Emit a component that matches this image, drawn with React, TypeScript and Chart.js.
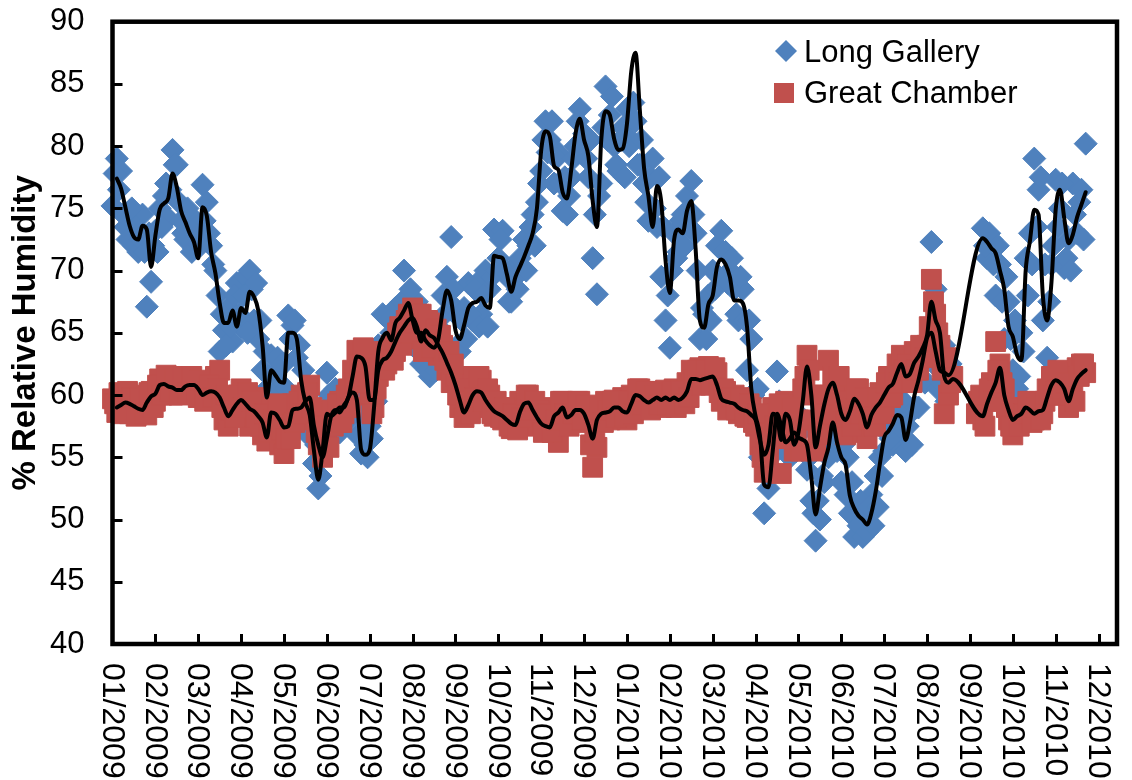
import React, { useEffect, useRef } from 'react';
import { Chart, registerables } from 'chart.js';

Chart.register(...registerables);

const FONT = '"Liberation Sans", Arial, Helvetica, sans-serif';

// x axis: months since 01/2009 (tick i = label i)
const monthLabels = [
  '01/2009', '02/2009', '03/2009', '04/2009', '05/2009', '06/2009',
  '07/2009', '08/2009', '09/2009', '10/2009', '11/2009', '12/2009',
  '01/2010', '02/2010', '03/2010', '04/2010', '05/2010', '06/2010',
  '07/2010', '08/2010', '09/2010', '10/2010', '11/2010', '12/2010',
];
const yTickValues = [40, 45, 50, 55, 60, 65, 70, 75, 80, 85, 90];
const seriesNames = ['Long Gallery', 'Great Chamber'];

// readings every 0.1 month; second set offset by half a step
const xStep = 0.1;
const xStartA = 0;
const xStartB = 0.05;

const galleryValuesA: (number | null)[] = [
  75.2, 79.0, 78.0, 73.5, 74.8, 72.0, 71.5, 74.5, 67.1, 69.1,
  73.2, 75.0, 76.0, 74.2, 79.7, 78.5, 74.0, 72.5, 74.5, 71.8,
  73.0, 76.9, 75.5, 72.0, 70.0, 63.5, 65.2, 67.0, 64.3, 69.0,
  65.5, 69.5, 70.0, 66.0, 64.5, 62.0, 60.5, 63.2, 61.8, 60.8,
  62.5, 66.4, 65.6, 63.0, 60.0, 57.0, 59.5, 54.5, 52.5, 56.5,
  61.8, 58.0, 60.5, 57.0, 59.0, 58.0, 61.0, 56.8, 55.3, 56.0,
  57.5, 61.0, 64.0, 66.5, 63.5, 65.0, 67.0, 64.5, 70.0, 66.5,
  64.0, 67.5, 62.5, 64.5, 61.5, 63.0, 65.5, 68.0, 69.5, 72.7,
  66.5, 63.5, 67.0, 69.0, 66.0, 69.0, 66.5, 70.0, 68.5, 73.3,
  71.0, 73.2, 69.5, 67.5, 70.5, 71.0, 72.5, 72.0, 74.5, 75.5,
  78.0, 82.0, 80.5, 77.0, 79.5, 74.8, 74.5, 77.5, 80.0, 83.0,
  81.0, 77.5, 71.0, 68.1, 77.0, 84.8, 82.5, 80.0, 78.0, 81.5,
  83.0, 80.5, 82.0, 78.5, 77.0, 74.0, 79.0, 73.5, 69.5, 66.0,
  63.8, 73.0, 71.5, 74.5, 76.0, 77.2, 73.0, 64.5, 66.5, 68.0,
  70.0, 72.0, 73.2, 71.5, 70.0, 68.5, 66.0, 68.5, 62.0, 64.5,
  58.0, 55.0, 50.5, 52.5, 54.0, 61.9, 56.0, 58.0, 55.0, 57.5,
  58.5, 55.5, 54.0, 51.5, 48.3, 50.0, 53.0, 55.0, 58.5, 55.5,
  53.0, 52.0, 50.5, 48.6, 49.5, 48.6, 49.0, 52.0, 53.5, 55.0,
  55.5, 58.0, 56.0, 59.5, 57.0, 55.5, 58.5, 61.0, 59.0, 63.0,
  64.5, 72.3, 68.5, 62.0, 64.0, 61.0, null, null, null, null,
  null, null, null, 73.4, 71.0, 72.5, 68.0, 70.5, 64.5, 67.5,
  62.0, 60.5, 65.0, 71.0, 73.0, 79.0, 76.5, 66.0, 63.0, 70.5,
  77.3, 75.0, 70.2, 72.5, 77.0, 73.0, 76.5, 80.2,
];

const galleryValuesB: (number | null)[] = [
  77.8, 76.5, 74.5, 72.5, 75.0, 73.5, 72.5, 71.5, 73.0, 72.0,
  71.5, 73.5, 77.0, 76.5, 78.5, 75.5, 73.0, 75.0, 71.5, 73.5,
  72.0, 74.0, 73.0, 70.5, 68.0, 66.5, 64.0, 65.5, 68.0, 66.5,
  68.0, 65.0, 68.5, 69.0, 66.0, 63.5, 61.5, 60.0, 63.0, 62.5,
  60.5, 64.5, 66.0, 64.0, 62.0, 58.0, 57.5, 56.0, 53.5, 58.0,
  60.0, 59.5, 57.5, 60.0, 58.0, 60.0, 59.0, 58.5, 56.5, 55.0,
  56.5, 59.5, 62.5, 63.5, 66.0, 63.0, 64.5, 67.5, 65.5, 68.5,
  65.5, 63.5, 66.0, 62.0, 65.0, 62.0, 63.5, 66.5, 67.5, 68.5,
  64.0, 66.0, 64.5, 66.5, 68.5, 65.5, 68.0, 65.5, 69.5, 70.0,
  72.5, 70.0, 67.5, 69.5, 68.5, 70.0, 70.0, 73.5, 72.0, 77.0,
  80.5, 79.5, 82.0, 79.0, 77.0, 77.5, 76.0, 79.0, 82.0, 80.5,
  79.0, 80.5, 74.5, 76.0, 81.5, 80.5, 84.0, 78.5, 80.5, 77.5,
  80.0, 83.5, 78.5, 80.5, 75.5, 77.5, 75.0, 77.5, 73.5, 68.0,
  70.0, 71.0, 74.0, 72.0, 73.5, 74.5, 70.0, 67.0, 64.5, 66.0,
  68.5, 69.5, 71.5, 69.0, 71.0, 66.5, 69.5, 66.0, 66.0, 60.0,
  60.5, 57.5, 53.5, 55.0, 57.0, 59.5, 58.5, 55.5, 58.0, 55.5,
  57.0, 57.5, 55.0, 50.5, 51.5, 53.5, 56.0, 57.0, 56.5, 58.0,
  56.0, 55.0, 53.0, 51.0, 51.5, 50.5, 51.0, 49.5, 51.0, 53.5,
  57.0, 56.5, 58.5, 57.5, 59.5, 57.5, 56.0, 59.0, 61.5, 61.0,
  63.0, 66.0, 60.5, 61.0, 59.5, 62.5, null, null, null, null,
  null, null, null, 72.0, 73.0, 70.5, 72.0, 67.5, 69.5, 64.5,
  66.0, 61.5, 63.5, 68.0, 70.5, 73.5, 77.5, 70.5, 67.5, 72.0,
  73.5, 77.0, 71.0, 70.0, 74.5, 75.5, 72.5, null,
];

const chamberValuesA: (number | null)[] = [
  59.7, 58.6, 60.0, 59.2, 58.5, 60.0, 58.7, 59.5, 58.4, 60.3,
  59.5, 61.3, 60.2, 61.5, 60.0, 61.0, 60.5, 61.2, 60.3, 61.0,
  59.8, 60.8, 59.6, 60.5, 61.5, 62.0, 58.0, 57.5, 59.5, 58.6,
  60.5, 59.0, 57.5, 59.8, 58.5, 56.8, 56.3, 59.0, 57.8, 56.0,
  55.3, 58.0, 59.3, 58.0, 60.0, 59.0, 60.8, 58.5, 56.0, 55.0,
  57.0, 58.8, 57.8, 59.5, 58.5, 60.5, 62.0, 63.6, 62.5, 63.0,
  60.0, 59.0, 61.5, 63.5, 62.5, 64.0, 63.5, 65.5, 64.5, 66.5,
  67.0, 65.0, 66.5, 64.2, 65.8, 64.5, 63.2, 64.0, 62.0, 61.0,
  61.5, 59.0, 58.2, 60.0, 61.5, 60.5, 61.2, 59.0, 60.0, 58.3,
  59.0, 58.0, 58.7, 57.3, 58.0, 59.5, 58.8, 60.0, 58.2, 57.5,
  58.5, 57.3, 58.0, 59.0, 56.2, 59.5, 58.3, 59.2, 58.0, 59.5,
  58.3, 57.8, 54.2, 55.8, 58.8, 59.5, 58.0, 59.6, 58.5, 59.8,
  58.0, 60.0, 59.3, 60.5, 59.0, 60.2, 59.3, 60.3, 59.0, 60.4,
  59.3, 60.5, 59.5, 60.2, 61.0, 62.0, 60.8, 62.2, 61.0, 62.3,
  61.2, 61.8, 59.5, 60.3, 59.0, 60.0, 58.5, 59.5, 58.2, 59.0,
  57.5, 56.0, 53.8, 55.0, 59.0, 57.5, 53.7, 59.5, 57.0, 55.5,
  58.0, 60.5, 63.2, 60.0, 55.5, 57.0, 60.0, 62.8, 61.5, 59.5,
  58.0, 56.8, 60.0, 58.5, 60.5, 57.0, 56.5, 59.0, 57.8, 60.2,
  59.0, 61.5, 60.0, 62.5, 63.2, 61.0, 62.5, 63.5, 62.0, 63.5,
  64.0, 69.3, 66.5, 64.0, 58.5, 60.0, 61.5, null, null, null,
  null, null, 59.5, 58.0, 59.5, 61.0, 64.3, 62.5, 60.5, 58.0,
  56.8, 58.0, 59.0, 58.2, 59.5, 58.0, 59.2, 58.5, 60.5, 61.5,
  60.3, 61.8, 60.0, 59.0, 61.0, 62.2, 62.5, 61.8,
];

const chamberValuesB: (number | null)[] = [
  59.3, 60.2, 58.5, 60.3, 59.8, 58.3, 59.8, 58.5, 60.2, 59.0,
  60.8, 60.0, 61.6, 60.3, 61.3, 60.0, 61.5, 60.2, 61.5, 60.2,
  61.2, 59.5, 60.8, 59.8, 60.5, 59.0, 60.0, 58.8, 58.2, 60.0,
  59.0, 60.2, 59.5, 58.2, 57.5, 58.5, 57.0, 58.0, 59.3, 57.2,
  56.5, 56.5, 57.8, 59.5, 58.5, 60.2, 59.0, 57.0, 57.5, 56.0,
  55.8, 57.5, 59.3, 57.8, 60.0, 59.0, 61.0, 62.5, 63.8, 61.5,
  58.5, 60.5, 62.5, 62.0, 63.5, 62.8, 65.0, 64.0, 66.0, 65.0,
  65.8, 66.5, 63.5, 66.0, 63.8, 65.3, 64.8, 62.8, 63.5, 62.5,
  60.0, 60.5, 59.5, 58.5, 59.8, 61.5, 59.5, 60.5, 58.5, 59.5,
  58.2, 59.0, 57.5, 58.5, 57.2, 58.2, 60.0, 58.8, 59.5, 58.8,
  57.0, 58.5, 57.0, 58.0, 59.5, 58.5, 57.5, 58.5, 59.5, 58.0,
  59.2, 56.0, 57.0, 59.0, 57.8, 58.8, 59.5, 58.2, 59.5, 58.3,
  59.5, 58.5, 60.5, 59.2, 60.3, 58.8, 60.0, 59.2, 60.2, 59.2,
  60.3, 59.0, 60.3, 59.3, 59.8, 61.2, 62.0, 60.8, 62.0, 60.8,
  62.2, 60.2, 60.5, 58.8, 59.8, 58.8, 59.8, 58.3, 59.3, 57.8,
  58.5, 55.0, 56.5, 57.0, 57.5, 59.3, 56.5, 57.5, 59.0, 56.8,
  55.5, 61.5, 62.0, 58.0, 56.8, 59.0, 58.5, 60.0, 60.2, 61.5,
  59.5, 58.2, 57.5, 60.5, 58.5, 59.8, 58.0, 57.5, 59.8, 58.5,
  61.0, 59.8, 61.5, 61.0, 62.0, 62.5, 61.0, 62.0, 64.0, 63.0,
  65.5, 67.5, 65.0, 62.0, 63.0, 61.0, null, null, null, null,
  null, 58.5, 60.0, 57.5, 60.5, 59.5, 62.0, 61.0, 59.0, 57.5,
  59.0, 57.5, 58.5, 59.5, 57.8, 59.0, 58.0, 59.5, 60.0, 60.0,
  62.0, 60.5, 61.0, 60.0, 59.5, 61.5, 62.5, null,
];

// moving-average trend lines (xStartA grid)
const galleryTrend: (number | null)[] = [
  null, 77.4, 76.6, 75.1, 73.6, 72.7, 72.5, 73.6, 73.3, 70.3,
  72.8, 74.9, 75.4, 75.8, 77.8, 76.7, 74.8, 73.9, 73.0, 72.3,
  71.0, 75.1, 74.4, 71.5, 69.8, 67.4, 65.8, 65.8, 66.8, 65.5,
  67.0, 66.6, 68.3, 67.9, 66.8, 64.0, 59.8, 62.0, 61.6, 61.1,
  61.0, 65.0, 65.0, 64.5, 61.2, 59.4, 58.4, 55.5, 53.2, 55.5,
  58.5, 58.3, 58.6, 59.0, 59.0, 59.8, 60.2, 59.6, 55.6, 55.2,
  55.6, 59.0, 63.5, 64.6, 65.0, 64.4, 65.8, 66.2, 66.8, 67.4,
  66.0, 65.0, 65.0, 64.4, 64.0, 63.8, 64.5, 66.8, 68.4, 67.6,
  65.2, 64.5, 65.6, 67.0, 67.4, 67.5, 67.8, 67.2, 67.0, 71.2,
  71.1, 71.0, 69.7, 68.3, 69.5, 70.3, 71.1, 72.0, 73.0, 75.0,
  79.7, 81.2, 80.8, 78.4, 78.1, 76.3, 75.8, 78.1, 81.0, 82.2,
  80.5, 79.2, 75.6, 73.5, 80.5, 82.8, 82.5, 80.6, 79.7, 79.8,
  81.8, 86.0, 87.5, 82.9, 78.2, 76.0, 73.5, 76.8, 75.5, 70.8,
  68.2, 72.5, 73.3, 73.0, 74.8, 75.6, 71.8, 66.0, 65.4, 67.3,
  68.0, 70.3, 70.9, 70.5, 69.5, 67.6, 67.6, 67.4, 65.5, 60.5,
  58.3, 56.8, 52.8, 52.6, 55.5, 58.5, 57.5, 56.2, 56.5, 57.0,
  56.6, 56.4, 56.0, 53.4, 50.4, 52.5, 54.5, 55.8, 57.8, 56.2,
  55.0, 54.4, 51.9, 50.9, 50.3, 50.0, 49.6, 50.5, 52.2, 54.5,
  56.6, 57.1, 57.7, 58.4, 58.2, 56.4, 57.8, 59.9, 61.2, 62.8,
  64.6, 65.0, 63.5, 62.0, 61.8, 61.6, null, null, null, null,
  null, null, null, 72.6, 72.3, 71.8, 71.4, 70.0, 68.5, 65.5,
  64.7, 63.2, 62.8, 70.0, 72.4, 74.9, 74.5, 68.0, 66.0, 69.0,
  74.9, 76.5, 74.2, 72.2, 72.9, 74.3, 75.3, 76.3,
];

const chamberTrend: (number | null)[] = [
  null, 59.0, 59.2, 59.4, 59.3, 59.1, 58.9, 58.8, 59.4, 59.9,
  60.1, 60.8, 60.9, 60.7, 60.6, 60.4, 60.4, 60.7, 60.8, 60.8,
  60.5, 60.0, 60.2, 60.3, 60.2, 59.8, 59.0, 58.3, 58.8, 59.3,
  59.6, 59.3, 58.9, 58.7, 58.3, 57.8, 56.6, 58.6, 58.5, 58.0,
  57.4, 57.5, 58.8, 58.9, 59.0, 59.5, 59.8, 57.5, 56.0, 55.0,
  56.5, 58.3, 58.8, 58.6, 59.2, 59.8, 61.5, 63.1, 63.0, 62.3,
  59.6, 59.6, 62.0, 62.8, 63.0, 63.5, 64.3, 65.0, 65.5, 66.0,
  66.2, 65.5, 64.3, 65.2, 64.8, 64.6, 64.0, 63.4, 62.6, 61.8,
  60.8, 59.6, 58.6, 59.2, 60.0, 60.3, 60.2, 59.6, 59.1, 58.7,
  58.5, 58.3, 58.0, 57.7, 57.6, 58.6, 59.3, 59.4, 58.8, 58.2,
  57.7, 57.5, 57.4, 58.3, 58.6, 59.0, 58.2, 58.4, 58.8, 58.8,
  58.5, 57.6, 56.5, 58.0, 58.5, 58.6, 58.7, 59.0, 59.0, 58.7,
  58.6, 59.3, 60.0, 59.9, 59.6, 59.4, 59.6, 59.8, 59.6, 59.8,
  59.6, 59.8, 59.6, 59.8, 60.3, 61.3, 61.3, 61.2, 61.3, 61.4,
  61.5, 60.8, 59.7, 59.5, 59.4, 59.3, 59.0, 58.8, 58.7, 58.4,
  58.0, 56.4, 55.2, 56.0, 58.5, 58.2, 56.4, 58.5, 58.0, 56.0,
  57.0, 59.5, 62.3, 60.0, 55.8, 57.5, 59.2, 60.5, 61.0, 60.0,
  58.5, 58.0, 58.7, 59.7, 59.3, 58.5, 57.4, 58.4, 59.0, 59.4,
  60.0, 60.6, 60.9, 61.8, 62.5, 61.5, 61.7, 62.6, 63.1, 63.8,
  64.8, 67.5, 66.0, 65.0, 61.5, 61.0, 61.3, null, null, null,
  null, null, null, 58.3, 59.3, 60.2, 61.0, 62.2, 60.0, 58.8,
  58.0, 58.3, 58.5, 59.0, 58.8, 58.5, 58.7, 58.8, 59.8, 60.8,
  61.2, 61.0, 60.5, 59.5, 60.5, 61.3, 61.7, 62.0,
];

const BLUE = '#4F81BD';
const RED = '#C0504D';

const toPoints = (vals: (number | null)[], start: number) =>
  vals.map((v, i) => ({ x: Math.round((start + i * xStep) * 100) / 100, y: v }));
const toLinePoints = (vals: (number | null)[]) =>
  toPoints(vals, xStartA).filter((p) => p.y !== null);

const framePlugin = {
  id: 'excelFrame',
  afterDatasetsDraw(chart: any) {
    const { ctx, chartArea: a, scales } = chart;
    const xs = scales.x;
    const ys = scales.y;
    ctx.save();
    ctx.strokeStyle = '#000';
    ctx.lineCap = 'butt';
    ctx.lineWidth = 3;
    ctx.beginPath();
    yTickValues.forEach((v) => {
      if (v === 40 || v === 90) return;
      const py = Math.round(ys.getPixelForValue(v)) + 0.5;
      ctx.moveTo(a.left, py);
      ctx.lineTo(a.left + 10, py);
    });
    monthLabels.forEach((_, i) => {
      if (i === 0) return;
      const px = Math.round(xs.getPixelForValue(i)) + 0.5;
      ctx.moveTo(px, a.bottom);
      ctx.lineTo(px, a.bottom - 10);
    });
    ctx.stroke();
    ctx.lineWidth = 4.5;
    ctx.lineJoin = 'miter';
    ctx.strokeRect(a.left, a.top, a.right - a.left, a.bottom - a.top);

    // rotated month labels (reading top to bottom)
    ctx.fillStyle = '#000';
    ctx.font = `32px ${FONT}`;
    ctx.textAlign = 'left';
    ctx.textBaseline = 'middle';
    monthLabels.forEach((lab, i) => {
      const px = xs.getPixelForValue(i);
      ctx.save();
      ctx.translate(px - 1, a.bottom + 19);
      ctx.rotate(Math.PI / 2);
      ctx.fillText(lab, 0, 0);
      ctx.restore();
    });

    // legend inside plot
    ctx.font = `31px ${FONT}`;
    ctx.fillStyle = BLUE;
    ctx.beginPath();
    const dx = 786, dy = 51, dr = 11;
    ctx.moveTo(dx, dy - dr);
    ctx.lineTo(dx + dr, dy);
    ctx.lineTo(dx, dy + dr);
    ctx.lineTo(dx - dr, dy);
    ctx.closePath();
    ctx.fill();
    ctx.fillStyle = RED;
    ctx.fillRect(774, 83, 20, 20);
    ctx.fillStyle = '#000';
    ctx.fillText(seriesNames[0], 804, 53);
    ctx.fillText(seriesNames[1], 804, 94);
    ctx.restore();
  },
};

export default function App() {
  const ref = useRef<HTMLCanvasElement>(null);
  useEffect(() => {
    document.body.style.margin = '0';
    const canvas = ref.current;
    if (!canvas) return;
    const chart = new Chart(canvas, {
      type: 'scatter',
      data: {
        datasets: [
          {
            label: seriesNames[0],
            data: [...toPoints(galleryValuesA, xStartA), ...toPoints(galleryValuesB, xStartB)],
            pointStyle: 'rectRot',
            pointRadius: 11.5,
            backgroundColor: BLUE,
            borderColor: BLUE,
            pointBorderWidth: 1,
            order: 4,
            clip: false,
          },
          {
            label: seriesNames[1],
            data: [...toPoints(chamberValuesA, xStartA), ...toPoints(chamberValuesB, xStartB)],
            pointStyle: 'rect',
            pointRadius: 14,
            backgroundColor: RED,
            borderColor: RED,
            pointBorderWidth: 1,
            order: 3,
            clip: false,
          },
          {
            label: seriesNames[0] + ' trend',
            data: toLinePoints(galleryTrend),
            showLine: true,
            pointRadius: 0,
            borderColor: '#000',
            borderWidth: 4,
            borderJoinStyle: 'round',
            borderCapStyle: 'round',
            cubicInterpolationMode: 'monotone',
            order: 1,
          },
          {
            label: seriesNames[1] + ' trend',
            data: toLinePoints(chamberTrend),
            showLine: true,
            pointRadius: 0,
            borderColor: '#000',
            borderWidth: 4,
            borderJoinStyle: 'round',
            borderCapStyle: 'round',
            cubicInterpolationMode: 'monotone',
            order: 0,
          },
        ] as any,
      },
      options: {
        responsive: false,
        animation: false,
        devicePixelRatio: 1,
        events: [],
        layout: { padding: { left: 0, top: 21.7, right: 6.5, bottom: 136 } },
        plugins: {
          legend: { display: false },
          tooltip: { enabled: false },
        },
        scales: {
          x: {
            type: 'linear',
            min: 0,
            max: 23.43,
            grid: { display: false, drawTicks: false },
            border: { display: false },
            ticks: { display: false },
            afterFit: (s: any) => {
              s.paddingLeft = 0;
              s.paddingRight = 0;
            },
          },
          y: {
            min: 40,
            max: 90,
            afterFit: (s: any) => {
              s.width = 112.5;
              s.paddingTop = 0;
              s.paddingBottom = 0;
            },
            grid: { display: false, drawTicks: false },
            border: { display: false },
            ticks: {
              stepSize: 5,
              padding: 28,
              color: '#000',
              font: { size: 31, family: FONT },
            },
            title: {
              display: true,
              text: '% Relative Humidity',
              color: '#000',
              font: { size: 33, weight: 'bold', family: FONT },
              padding: { top: 6, bottom: 0 },
            },
          },
        },
      },
      plugins: [framePlugin],
    } as any);
    return () => chart.destroy();
  }, []);
  return (
    <div style={{ position: 'absolute', left: 0, top: 0, width: 1132, height: 780, overflow: 'hidden' }}>
      <canvas ref={ref} width={1132} height={780} style={{ display: 'block', width: 1132, height: 780 }} />
    </div>
  );
}
